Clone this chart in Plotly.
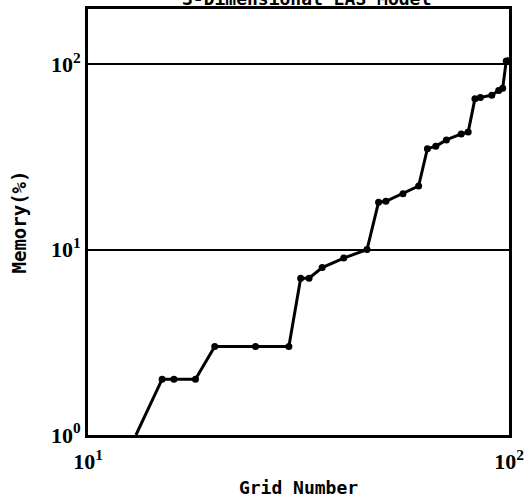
import plotly.graph_objects as go

grid_number = [13, 15, 16, 18, 20, 25, 30, 32, 33.5, 36, 40.5, 46, 49, 51, 56, 61,
               64, 67, 71, 77, 80, 83, 85.5, 91, 94.5, 96.6, 98.5, 100]
memory_pct = [1.0, 2.0, 2.0, 2.0, 3.0, 3.0, 3.0, 7.0, 7.0, 8.0, 9.0, 10.0, 18.0, 18.2,
              20.0, 22.0, 35.0, 36.0, 39.0, 42.0, 43.0, 65.0, 66.0, 68.0, 72.0, 74.0, 104.0, 108.0]
marker_flags = [False] + [True] * 26 + [False]

tick_vals = [1, 10, 100]
y_tick_text = ["<b>10<sup>0</sup></b>", "<b>10<sup>1</sup></b>", "<b>10<sup>2</sup></b>"]
x_tick_vals = [10, 100]
x_tick_text = ["<b>10<sup>1</sup></b>", "<b>10<sup>2</sup></b>"]
title_text = "3-Dimensional EAS Model"

mono = "DejaVu Sans Mono"
serif = "Liberation Serif"

fig = go.Figure()
fig.add_trace(go.Scatter(
    x=grid_number, y=memory_pct, mode="lines",
    line=dict(color="black", width=3), showlegend=False, hoverinfo="skip"))
fig.add_trace(go.Scatter(
    x=[g for g, f in zip(grid_number, marker_flags) if f],
    y=[m for m, f in zip(memory_pct, marker_flags) if f],
    mode="markers", marker=dict(color="black", size=7), showlegend=False))

fig.add_annotation(text="<b>" + title_text + "</b>", xref="paper", yref="paper",
                   x=0.52, y=1.0235, yanchor="middle", showarrow=False,
                   font=dict(family=mono, size=18, color="black"))

fig.update_xaxes(type="log", range=[1, 2], tickvals=x_tick_vals, ticktext=x_tick_text,
                 automargin=False, ticklabelstandoff=5,
                 showgrid=False, showline=True, linecolor="black", linewidth=3, mirror=True,
                 ticks="", tickfont=dict(family=serif, size=22, color="black"),
                 title=dict(text="<b>Grid Number</b>", font=dict(family=mono, size=18, color="black"),
                            standoff=13),
                 zeroline=False)
fig.update_yaxes(type="log", range=[0, 2.297], tickvals=tick_vals, ticktext=y_tick_text,
                 automargin=False,
                 showgrid=True, gridcolor="black", gridwidth=2,
                 showline=True, linecolor="black", linewidth=3, mirror=True,
                 ticks="", tickfont=dict(family=serif, size=22, color="black"),
                 title=dict(text="<b>Memory(%)</b>", font=dict(family=mono, size=19, color="black"),
                            standoff=20),
                 zeroline=False)

fig.update_layout(width=527, height=498, margin=dict(l=88, r=18, t=9, b=63, autoexpand=False),
                  paper_bgcolor="white", plot_bgcolor="white")
fig.write_html("out.html", config={"displayModeBar": False},
               post_script="document.body.style.margin='0';")
